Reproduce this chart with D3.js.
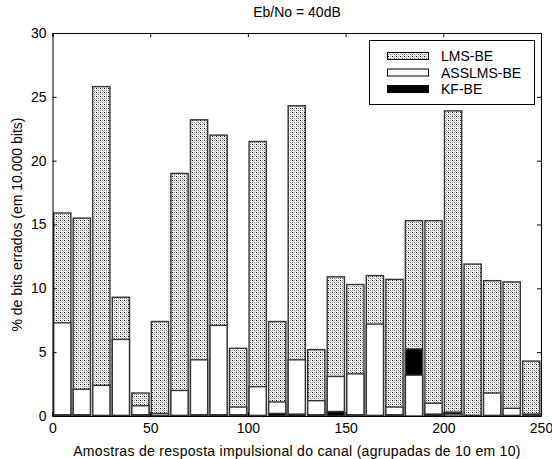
<!DOCTYPE html>
<html>
<head>
<meta charset="utf-8">
<script src="https://cdn.jsdelivr.net/npm/d3@7"></script>
<style>
body { margin: 0; background: #fff; }
text { font-family: "Liberation Sans", Arial, sans-serif; fill: #000; }
</style>
</head>
<body>
<svg id="canvas" width="552" height="459"></svg>
<script>
// centro de cada grupo (amostras agrupadas de 10 em 10)
const groups = [5, 15, 25, 35, 45, 55, 65, 75, 85, 95, 105, 115, 125, 135, 145, 155, 165, 175, 185, 195, 205, 215, 225, 235, 245];
const lmsBE = [15.9, 15.5, 25.8, 9.3, 1.8, 7.4, 19.0, 23.2, 22.0, 5.3, 21.5, 7.4, 24.3, 5.2, 10.9, 10.3, 11.0, 10.7, 15.3, 15.3, 23.9, 11.9, 10.6, 10.5, 4.3];
const asslmsBE = [7.3, 2.1, 2.4, 6.0, 0.8, 0.2, 2.0, 4.4, 7.1, 0.7, 2.3, 1.1, 4.4, 1.2, 3.1, 3.3, 7.2, 0.7, 3.2, 1.0, 0.15, 0, 1.8, 0.6, 0.1];
const kfBE = [0.1, 0.1, 0.05, 0.05, 0.1, 0.05, 0.05, 0.1, 0.1, 0.1, 0.05, 0.2, 0.15, 0.1, 0.35, 0.1, 0.05, 0.1, 5.25, 0.15, 0.3, 0.05, 0.05, 0.05, 0.15];
const xTicks = [0, 50, 100, 150, 200, 250];
const yTicks = [0, 5, 10, 15, 20, 25, 30];
const legendLabels = ['LMS-BE', 'ASSLMS-BE', 'KF-BE'];

const svg = d3.select('#canvas');
const pLeft = 52.5, pRight = 541, pTop = 33, pBottom = 416;
const fs = '14px';

const x = d3.scaleLinear().domain([0, 250]).range([pLeft, pRight]);
const y = d3.scaleLinear().domain([0, 30]).range([pBottom, pTop]);
const barW = x(8.8) - x(0);

// padrao pontilhado do LMS
const pat = svg.append('defs').append('pattern')
	.attr('id', 'dots')
	.attr('patternUnits', 'userSpaceOnUse')
	.attr('width', 4).attr('height', 4);
pat.append('rect').attr('width', 4).attr('height', 4).attr('fill', '#fff');
pat.append('rect').attr('x', 0).attr('y', 0).attr('width', 1).attr('height', 1).attr('fill', '#000');
pat.append('rect').attr('x', 2).attr('y', 0).attr('width', 1).attr('height', 1).attr('fill', '#999');
pat.append('rect').attr('x', 0).attr('y', 2).attr('width', 1).attr('height', 1).attr('fill', '#999');
pat.append('rect').attr('x', 2).attr('y', 2).attr('width', 1).attr('height', 1).attr('fill', '#777');
pat.append('rect').attr('x', 1).attr('y', 1).attr('width', 1).attr('height', 1).attr('fill', '#ccc');
pat.append('rect').attr('x', 3).attr('y', 3).attr('width', 1).attr('height', 1).attr('fill', '#ccc');

const fills = ['url(#dots)', '#fff', '#000'];
const seriesVals = [lmsBE, asslmsBE, kfBE];

// barras sobrepostas: em cada grupo a maior fica atras
const cells = groups.map((g, i) => seriesVals
	.map((vals, k) => ({ g: g, v: vals[i], fill: fills[k] }))
	.sort((a, b) => b.v - a.v));

svg.append('g').selectAll('g')
	.data(cells)
	.enter()
	.append('g')
	.selectAll('rect')
	.data((d) => d)
	.enter()
	.append('rect')
	.attr('x', (d) => x(d.g) - barW / 2)
	.attr('y', (d) => y(d.v))
	.attr('width', barW)
	.attr('height', (d) => y(0) - y(d.v))
	.attr('fill', (d) => d.fill)
	.attr('stroke', '#333')
	.attr('stroke-width', 1.4);

// eixos (ticks para dentro, caixa fechada)
const fmt = d3.format('d');
svg.append('g').attr('transform', `translate(0,${pBottom})`)
	.call(d3.axisBottom(x).tickValues(xTicks).tickSize(-4).tickPadding(7).tickFormat(fmt));
svg.append('g').attr('transform', `translate(0,${pTop})`)
	.call(d3.axisTop(x).tickValues(xTicks).tickSize(-4).tickFormat(''));
svg.append('g').attr('transform', `translate(${pLeft},0)`)
	.call(d3.axisLeft(y).tickValues(yTicks).tickSize(-4).tickPadding(6).tickFormat(fmt));
svg.append('g').attr('transform', `translate(${pRight},0)`)
	.call(d3.axisRight(y).tickValues(yTicks).tickSize(-4).tickFormat(''));
svg.selectAll('.domain').attr('stroke', '#000');
svg.selectAll('.tick line').attr('stroke', '#000');
svg.selectAll('.tick text').style('font-size', fs).style('font-family', '"Liberation Sans", Arial, sans-serif');

svg.append('text').attr('x', 297).attr('y', 17).attr('text-anchor', 'middle')
	.style('font-size', fs).text('Eb/No = 40dB');
svg.append('text').attr('x', 297).attr('y', 456).attr('text-anchor', 'middle')
	.style('font-size', fs).style('letter-spacing', '0.3px')
	.text('Amostras de resposta impulsional do canal (agrupadas de 10 em 10)');
svg.append('text').attr('transform', `translate(22,${(pTop + pBottom) / 2}) rotate(-90)`)
	.attr('text-anchor', 'middle')
	.style('font-size', fs).text('% de bits errados (em 10.000 bits)');

// legenda
const lg = svg.append('g');
lg.append('rect').attr('x', 369.5).attr('y', 40.5).attr('width', 165).attr('height', 64)
	.attr('fill', '#fff').attr('stroke', '#000');
legendLabels.forEach((lab, i) => {
	const cy = 56 + i * 16.5;
	lg.append('rect').attr('x', 387.5).attr('y', cy - 3.5).attr('width', 41).attr('height', 7)
		.attr('fill', fills[i]).attr('stroke', '#000');
	lg.append('text').attr('x', 441).attr('y', cy + 5)
		.style('font-size', fs).text(lab);
});
</script>
</body>
</html>
